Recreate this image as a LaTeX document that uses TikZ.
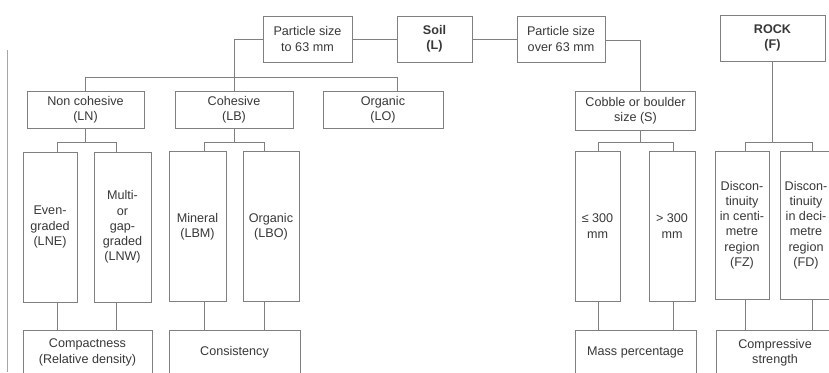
\documentclass[tikz,border=0pt]{standalone}
\usepackage{fontspec}
\setmainfont{Liberation Sans}
\begin{document}
\begin{tikzpicture}[x=1pt,y=-1pt,
  box/.style={draw=black!50, line width=0.8pt, text=black!78, align=center, inner sep=0pt,
    font=\fontsize{12.6}{15.2}\selectfont},
  ln/.style={draw=black!50, line width=0.7pt}]
\clip (0,0) rectangle (829,372);
\fill[white] (0,0) rectangle (829,372);
% page edge artifact
\draw[ln, black!35] (7,50) -- (7,372);
% top row
\node[box, minimum width=89, minimum height=46] (p63) at (307.5,39) {Particle size\\to 63 mm};
\node[box, minimum width=75, minimum height=46, font=\fontsize{12.6}{15.2}\selectfont\bfseries] (soil) at (434.5,39) {Soil\\(L)};
\node[box, minimum width=88, minimum height=46] (po63) at (561,39) {Particle size\\over 63 mm};
\node[box, minimum width=105, minimum height=46, font=\fontsize{12.6}{15.2}\selectfont\bfseries] (rock) at (772.5,38) {ROCK\\(F)};
% second row
\node[box, minimum width=117, minimum height=37] (LN) at (85.5,110) {Non cohesive\\(LN)};
\node[box, minimum width=118, minimum height=37] (LB) at (234,110) {Cohesive\\(LB)};
\node[box, minimum width=120, minimum height=37] (LO) at (383,110) {Organic\\(LO)};
\node[box, minimum width=120, minimum height=39] (cb) at (635.5,110.5) {Cobble or boulder\\size (S)};
% tall boxes
\node[box, minimum width=54, minimum height=150] (LNE) at (50,227) {Even-\\graded\\(LNE)};
\node[box, minimum width=57, minimum height=150] (LNW) at (122.5,227) {Multi-\\or\\gap-\\graded\\(LNW)};
\node[box, minimum width=57, minimum height=150] (LBM) at (197.5,226.5) {Mineral\\(LBM)};
\node[box, minimum width=56, minimum height=150] (LBO) at (271,226.5) {Organic\\(LBO)};
\node[box, minimum width=45, minimum height=150] (S1) at (597.5,226) {≤ 300\\mm};
\node[box, minimum width=46, minimum height=150] (S2) at (672,226) {> 300\\mm};
\node[box, minimum width=54, minimum height=148] (FZ) at (742,225) {Discon-\\tinuity\\in centi-\\metre\\region\\(FZ)};
\node[box, minimum width=52, minimum height=148] (FD) at (806,225) {Discon-\\tinuity\\in deci-\\metre\\region\\(FD)};
% bottom boxes
\node[box, minimum width=129, minimum height=45] (cmp) at (87.5,352.5) {Compactness\\(Relative density)};
\node[box, minimum width=131, minimum height=45] (cons) at (234.5,352.5) {Consistency};
\node[box, minimum width=121, minimum height=45] (mass) at (635.5,352.5) {Mass percentage};
\node[box, minimum width=118, minimum height=45] (cst) at (775,352.5) {Compressive\\strength};
% junction coordinates
\coordinate (loj) at (397,77);
\coordinate (cbj) at (640,40);
\coordinate (a1) at (57,142);  \coordinate (a2) at (116,142);
\coordinate (b1) at (204,142); \coordinate (b2) at (264,142);
\coordinate (c1) at (598,142); \coordinate (c2) at (673,142);
\coordinate (d1) at (745,142); \coordinate (d2) at (812,142);
% connectors top
\draw[ln] (p63.west) -| (LB.north);
\draw[ln] (p63.east) -- (soil.west);
\draw[ln] (soil.east) -- (po63.west);
\draw[ln] (LN.north) |- (loj) -- (loj |- LO.north);
\draw[ln] (po63.east |- cbj) -- (cbj) -- (cbj |- cb.north);
% group buses
\draw[ln] (LN.south) -- (LN.south |- a1);
\draw[ln] (a1 |- LNE.north) -- (a1) -- (a2) -- (a2 |- LNW.north);
\draw[ln] (LB.south) -- (LB.south |- b1);
\draw[ln] (b1 |- LBM.north) -- (b1) -- (b2) -- (b2 |- LBO.north);
\draw[ln] (c1 |- cb.south) -- (c1 |- cb.south);
\draw[ln] (cb.south -| cbj) -- (cbj |- c1);
\draw[ln] (c1 |- S1.north) -- (c1) -- (c2) -- (c2 |- S2.north);
\draw[ln] (rock.south) -- (rock.south |- d1);
\draw[ln] (d1 |- FZ.north) -- (d1) -- (d2) -- (d2 |- FD.north);
% down to bottom boxes
\draw[ln] (a1 |- LNE.south) -- (a1 |- cmp.north);
\draw[ln] (a2 |- LNW.south) -- (a2 |- cmp.north);
\draw[ln] (b1 |- LBM.south) -- (b1 |- cons.north);
\draw[ln] (b2 |- LBO.south) -- (b2 |- cons.north);
\draw[ln] (c1 |- S1.south) -- (c1 |- mass.north);
\draw[ln] (c2 |- S2.south) -- (c2 |- mass.north);
\draw[ln] (d1 |- FZ.south) -- (d1 |- cst.north);
\draw[ln] (d2 |- FD.south) -- (d2 |- cst.north);
\end{tikzpicture}
\end{document}
